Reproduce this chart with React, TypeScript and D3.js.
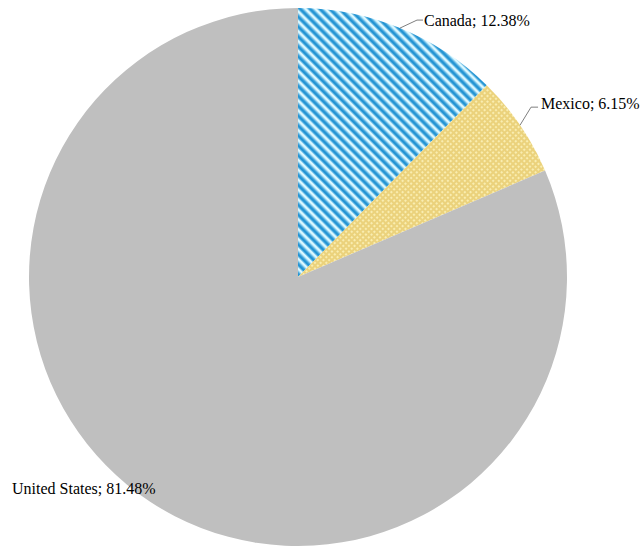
import React from "react";
import * as d3 from "d3";

const categories = ["Canada", "Mexico", "United States"];
const values = [12.38, 6.15, 81.48];
const labels = ["Canada; 12.38%", "Mexico; 6.15%", "United States; 81.48%"];

const W = 642;
const H = 547;
const cx = 298;
const cy = 277;
const R = 269;
const FONT = "Liberation Serif, Times New Roman, serif";

export default function App() {
  const pie = d3.pie<number>().sort(null).value((d) => d)(values);
  const arc = d3.arc<d3.PieArcDatum<number>>().innerRadius(0).outerRadius(R);
  const fills = ["url(#stripes)", "url(#cross)", "#bfbfbf"];

  const labelEls = pie.map((p, i) => {
    const mid = (p.startAngle + p.endAngle) / 2;
    const ex = cx + R * Math.sin(mid);
    const ey = cy - R * Math.cos(mid);
    if (i === 0) {
      return (
        <g key={i}>
          <polyline points={`${ex},${ey} ${ex + 17},${ey - 8} ${ex + 23},${ey - 8}`} fill="none" stroke="#7f7f7f" strokeWidth={1} />
          <text x={ex + 24} y={ey - 8} dy="0.35em" fontFamily={FONT} fontSize={16} fill="#000">{labels[i]}</text>
        </g>
      );
    }
    if (i === 1) {
      return (
        <g key={i}>
          <polyline points={`${ex},${ey} ${ex + 11},${ey - 18} ${ex + 18},${ey - 18}`} fill="none" stroke="#7f7f7f" strokeWidth={1} />
          <text x={ex + 21} y={ey - 22} dy="0.35em" fontFamily={FONT} fontSize={16} fill="#000">{labels[i]}</text>
        </g>
      );
    }
    return (
      <text key={i} x={12} y={488} dy="0.35em" fontFamily={FONT} fontSize={16} fill="#000">{labels[i]}</text>
    );
  });

  return (
    <svg width={W} height={H} style={{ position: "absolute", left: 0, top: 0 }}>
      <defs>
        <pattern id="stripes" patternUnits="userSpaceOnUse" width={7} height={7} patternTransform="rotate(-45)">
          <rect width={7} height={7} fill="#dcf8ff" />
          <rect x={0} width={0.8} height={7} fill="#6fc0ea" />
          <rect x={0.8} width={3} height={7} fill="#2494d3" />
          <rect x={3.8} width={0.8} height={7} fill="#6fc0ea" />
        </pattern>
        <pattern id="cross" patternUnits="userSpaceOnUse" width={4} height={4} patternTransform="rotate(45)">
          <rect width={4} height={4} fill="#ebd27c" />
          <rect x={1} y={1} width={2} height={2} fill="#f9edb0" />
        </pattern>
      </defs>
      <g transform={`translate(${cx},${cy})`}>
        {pie.map((p, i) => (
          <path key={categories[i]} d={arc(p) || ""} fill={fills[i]} />
        ))}
      </g>
      {labelEls}
    </svg>
  );
}
